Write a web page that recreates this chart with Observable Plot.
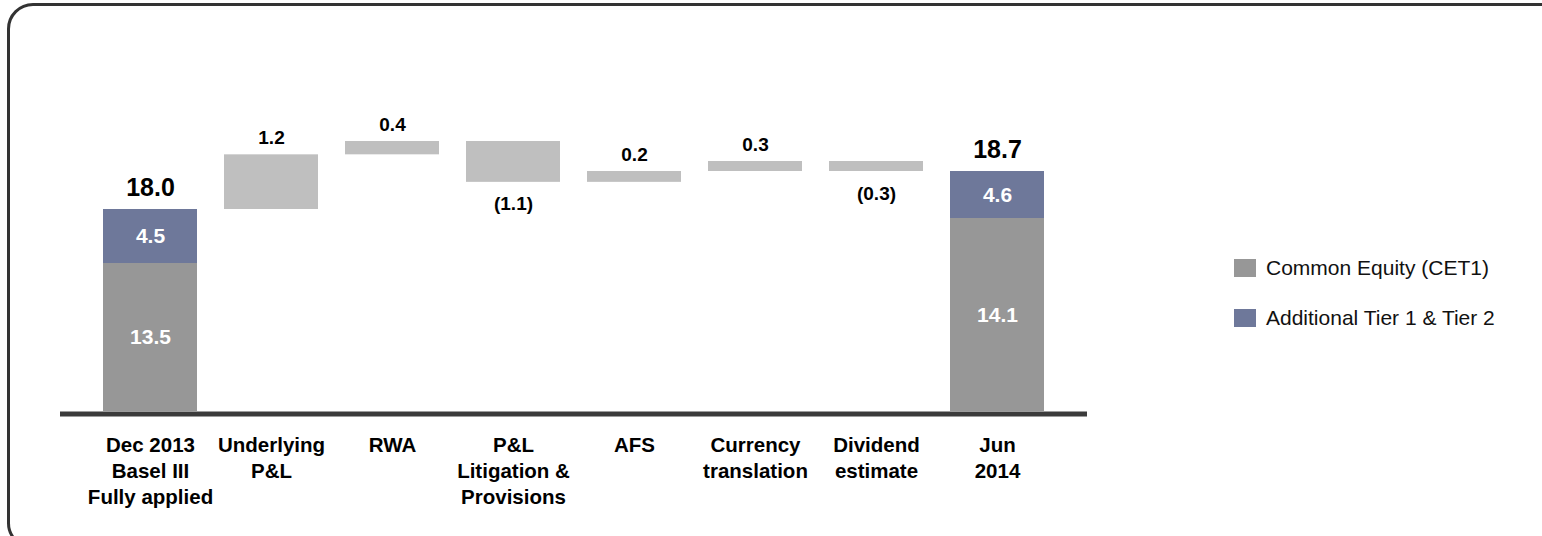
<!DOCTYPE html>
<html>
<head>
<meta charset="utf-8">
<script src="https://cdn.jsdelivr.net/npm/d3@7"></script>
<script src="https://cdn.jsdelivr.net/npm/@observablehq/plot@0.6"></script>
<style>
html, body { margin: 0; padding: 0; background: #fff; overflow: hidden; }
#wrap { position: relative; width: 1542px; height: 536px; overflow: hidden; font-family: "Liberation Sans", Arial, sans-serif; }
#frame { position: absolute; left: 7px; top: 3px; width: 1700px; height: 546px; border: 3px solid #333; border-radius: 26px; box-sizing: border-box; z-index: 2; pointer-events: none; }
#chart { position: absolute; left: 0; top: 0; z-index: 1; }
.leg { position: absolute; left: 1234px; display: flex; align-items: center; font-size: 21px; color: #111; z-index: 3; }
.leg .sw { width: 22px; height: 18px; margin-right: 10px; }
</style>
</head>
<body>
<div id="wrap">
  <div id="chart"></div>
  <div id="frame"></div>
  <div id="legend"></div>
</div>
<script>
// ---- data ----
const categories = [
  "Dec 2013\nBasel III\nFully applied",
  "Underlying\nP&L",
  "RWA",
  "P&L\nLitigation &\nProvisions",
  "AFS",
  "Currency\ntranslation",
  "Dividend\nestimate",
  "Jun\n2014"
];
const totalCategories = [categories[0], categories[7]];
const commonEquity = [13.5, 14.1];
const additionalTier = [4.5, 4.6];
const movementCategories = categories.slice(1, 7);
const movements = [1.2, 0.4, -1.1, 0.2, 0.3, -0.3];
const seriesNames = ["Common Equity (CET1)", "Additional Tier 1 & Tier 2"];
const seriesColors = ["#979797", "#6e789a"];

// ---- derived tables ----
const stackRows = [];
totalCategories.forEach((c, i) => {
  stackRows.push({cat: c, series: seriesNames[0], y1: 0, y2: commonEquity[i], value: commonEquity[i]});
  stackRows.push({cat: c, series: seriesNames[1], y1: commonEquity[i], y2: commonEquity[i] + additionalTier[i], value: additionalTier[i]});
});
const totals = totalCategories.map((c, i) => ({cat: c, total: Math.round((commonEquity[i] + additionalTier[i]) * 10) / 10}));
let run = commonEquity[0] + additionalTier[0];
const floats = movementCategories.map((c, i) => {
  const y1 = run, y2 = run + movements[i];
  run = y2;
  return {cat: c, y1, y2, value: movements[i]};
});

// the original chart is not drawn to scale: a piecewise linear scale reproduces it
const yOptions = {type: "linear", domain: [0, 13.5, 14.1, 18.0, 18.7, 19.6], range: [411, 263, 218, 209, 171, 141]};
const yScale = Plot.scale({y: yOptions});
const mid = d => yScale.invert((yScale.apply(d.y1) + yScale.apply(d.y2)) / 2);
const fmtMove = v => v < 0 ? `(${Math.abs(v).toFixed(1)})` : v.toFixed(1);

const font = '"Liberation Sans", Arial, sans-serif';
const chart = Plot.plot({
  width: 1542,
  height: 536,
  marginLeft: 60,
  marginRight: 455,
  marginTop: 0,
  marginBottom: 0,
  style: {fontFamily: font, background: "transparent"},
  x: {type: "band", domain: categories, paddingInner: 0.22, paddingOuter: 0.32, axis: null},
  y: {...yOptions, axis: null},
  color: {domain: seriesNames, range: seriesColors},
  marks: [
    Plot.barY(floats, {x: "cat", y1: "y1", y2: "y2", fill: "#bfbfbf"}),
    Plot.barY(stackRows, {x: "cat", y1: "y1", y2: "y2", fill: "series"}),
    Plot.ruleY([0], {stroke: "#3b3b3b", strokeWidth: 5, dy: 2.5}),
    Plot.text(stackRows, {x: "cat", y: mid, text: d => d.value.toFixed(1), fill: "white", fontWeight: "bold", fontSize: 21}),
    Plot.text(totals, {x: "cat", y: "total", text: d => d.total.toFixed(1), dy: -22, fontSize: 25, fontWeight: "bold", fill: "black"}),
    Plot.text(floats.filter(d => d.value > 0), {x: "cat", y: "y2", text: d => fmtMove(d.value), dy: -17, fontSize: 19, fontWeight: "bold", fill: "black"}),
    Plot.text(floats.filter(d => d.value < 0), {x: "cat", y: "y2", text: d => fmtMove(d.value), dy: 22, fontSize: 19, fontWeight: "bold", fill: "black"}),
    Plot.text(categories, {x: d => d, y: () => 0, text: d => d, dy: 22, lineAnchor: "top", lineHeight: 1.27, fontSize: 20.5, fontWeight: "bold", fill: "black"})
  ]
});
document.getElementById("chart").appendChild(chart);

// legend
const legend = document.getElementById("legend");
const legendTops = [256, 306];
seriesNames.forEach((name, i) => {
  const item = document.createElement("div");
  item.className = "leg";
  item.style.top = legendTops[i] + "px";
  item.innerHTML = `<span class="sw" style="background:${seriesColors[i]}"></span><span></span>`;
  item.lastChild.textContent = name;
  legend.appendChild(item);
});
</script>
</body>
</html>
